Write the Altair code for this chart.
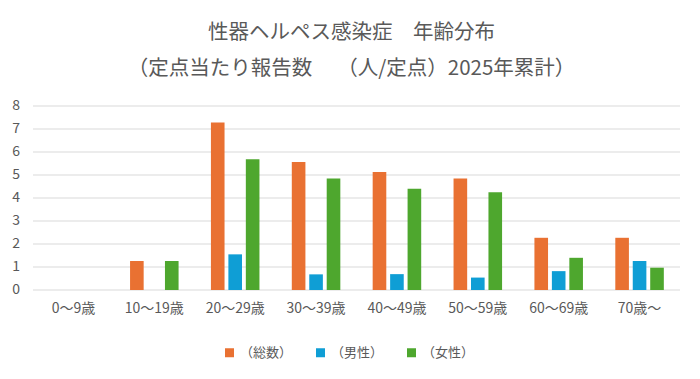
import altair as alt
import pandas as pd

categories = ["0〜9歳", "10〜19歳", "20〜29歳", "30〜39歳", "40〜49歳", "50〜59歳", "60〜69歳", "70歳〜"]
series_names = ["（総数）", "（男性）", "（女性）"]
total = [0, 1.26, 7.28, 5.56, 5.13, 4.85, 2.27, 2.27]
male = [0, 0, 1.55, 0.68, 0.69, 0.54, 0.82, 1.26]
female = [0, 1.26, 5.69, 4.85, 4.40, 4.25, 1.40, 0.97]
y_ticks = [0, 1, 2, 3, 4, 5, 6, 7, 8]
colors = ["#E97132", "#0F9ED5", "#4EA72E"]
title_lines = ["性器ヘルペス感染症　年齢分布", "（定点当たり報告数　 （人/定点）2025年累計）"]

rows = []
for name, vals in zip(series_names, [total, male, female]):
    for c, v in zip(categories, vals):
        rows.append({"age": c, "series": name, "value": v})
df = pd.DataFrame(rows)
grid_df = pd.DataFrame({"value": y_ticks, "label": [str(t) for t in y_ticks]})

FONT = "Noto Sans CJK JP"
GRAY = "#595959"

y_scale = alt.Scale(domain=[0, 8], nice=False)

grid = alt.Chart(grid_df).mark_rule(color="#D9D9D9", strokeWidth=1).encode(
    y=alt.Y("value:Q", scale=y_scale, title=None, axis=None),
    x=alt.value(0),
    x2=alt.value(647),
)

y_labels = alt.Chart(grid_df).mark_text(
    align="right", baseline="middle", fontSize=14, font=FONT, color=GRAY
).encode(
    y=alt.Y("value:Q", scale=y_scale, title=None, axis=None),
    x=alt.value(-13),
    text="label:N",
)

bars = alt.Chart(df).mark_bar().encode(
    x=alt.X("age:N", sort=categories, title=None,
            scale=alt.Scale(paddingInner=0.4, paddingOuter=0.2),
            axis=alt.Axis(labelAngle=0, ticks=False, domain=False,
                          grid=False, labelPadding=11, labelFontSize=14, labelColor=GRAY,
                          labelFont=FONT)),
    xOffset=alt.XOffset("series:N", sort=series_names,
                        scale=alt.Scale(paddingInner=0.22, paddingOuter=0)),
    y=alt.Y("value:Q", title=None, scale=y_scale, axis=None),
    color=alt.Color("series:N", sort=series_names,
                    scale=alt.Scale(domain=series_names, range=colors),
                    legend=alt.Legend(title=None, orient="none", direction="horizontal",
                                      legendX=190, legendY=240, symbolType="square",
                                      symbolSize=81, symbolStrokeWidth=0, labelOffset=4,
                                      columnPadding=21, labelFontSize=13, labelColor=GRAY,
                                      labelFont=FONT)),
)

chart = alt.layer(grid, y_labels, bars).properties(
    width=647,
    height=184,
    title=alt.TitleParams(text=title_lines, fontSize=20.5, font=FONT, color=GRAY,
                          fontWeight="normal", lineHeight=36, anchor="middle", offset=20, dx=-5),
    autosize=alt.AutoSizeParams(type="none"),
    padding={"left": 25, "top": 98, "right": 12, "bottom": 70},
).configure(background="white").configure_view(
    strokeOpacity=0, strokeWidth=0
)

chart.save("out.html", embed_options={"renderer": "svg", "actions": False})
